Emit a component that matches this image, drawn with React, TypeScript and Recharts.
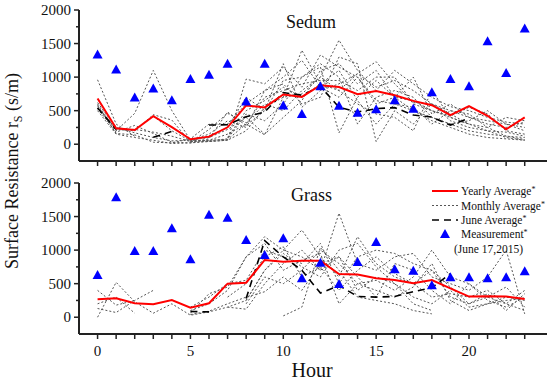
import React from 'react';
import { ComposedChart, Line, Scatter, XAxis, YAxis } from 'recharts';

const hours = [0, 1, 2, 3, 4, 5, 6, 7, 8, 9, 10, 11, 12, 13, 14, 15, 16, 17, 18, 19, 20, 21, 22, 23];
const yTicks = [0, 250, 500, 750, 1000, 1250, 1500, 1750, 2000];

// Sedum roof
const sedumYearly = [681, 237, 212, 419, 255, 74, 113, 252, 578, 548, 741, 705, 879, 853, 745, 794, 730, 646, 582, 434, 567, 424, 222, 400];
const sedumJune = [540, 220, null, 104, 190, null, 286, 290, 410, 480, 770, 730, 860, 550, 480, 530, 545, 435, 405, 285, 385, null, null, null];
const sedumMeas = [1338, 1115, 696, 830, 656, 972, 1037, 1200, 637, 1200, 578, 449, 864, 572, 468, 522, 656, 527, 775, 972, 864, 1535, 1061, 1723];
const sedumMonthly = [
  [960, 300, 120, null, null, 40, 60, 70, 300, 140, 700, 1400, 900, 800, 1050, 1230, 900, 620, 600, 450, 300, null, null, null],
  [600, 200, 460, 1100, 500, 60, 40, 60, 970, 900, 1150, 850, 1330, 1150, 1000, 650, 600, 500, 400, 300, 200, 150, 120, 100],
  [560, 220, 200, 440, 360, 30, 220, 460, 320, 600, 500, 800, 1000, 1550, 1100, 800, 1100, 900, 700, 560, 500, 400, 330, 300],
  [530, 180, 280, 160, 30, 20, 50, 80, 450, 350, 600, 1000, 1150, 170, 700, 950, 700, 650, 500, 420, 550, 450, 200, 150],
  [580, 160, 140, 30, 20, 80, 300, 300, 600, 800, 900, 600, 700, 1300, 1200, 40, 500, 300, 600, 350, 250, 200, 100, 60],
  [null, null, null, 420, 200, 50, 120, 250, 700, 500, 950, 1000, 1200, 1000, 300, 700, 800, 700, 400, 300, 350, 500, 300, 200],
  [620, 250, 170, 100, 50, 60, 100, 220, 400, 150, 400, 650, 1100, 1200, 900, 1100, 700, 1000, 450, 600, 400, 300, 250, 330],
  [540, 230, 220, 180, 120, 40, 60, 150, 300, 700, 800, 900, 950, 950, 800, 1000, 1000, 600, 500, 400, 300, 200, 180, 120],
  [null, null, null, null, null, 30, 80, 480, 280, 500, 1200, 550, 800, 900, 1050, 850, 950, 800, 600, 500, 400, 350, 300, 250],
  [500, 150, 100, 60, 10, 20, 40, 60, 200, 550, 700, 750, 1000, 800, 600, 450, 400, 200, 800, 400, 300, 250, 400, 350],
  [null, null, null, null, null, 60, 150, 350, 250, 800, 1000, 1250, 850, 700, 1000, 600, 700, 500, 350, 250, 150, 100, 80, 60],
  [null, null, null, null, null, null, null, 100, 500, 650, 850, 700, 900, 1100, 650, 300, 600, 550, 300, 500, 450, 250, 120, 70],
];

// Grass roof
const grassYearly = [268, 283, 208, 193, 257, 143, 208, 500, 515, 853, 827, 842, 842, 644, 635, 580, 555, 506, 555, 431, 307, 312, 307, 272];
const grassJune = [null, null, null, null, null, 85, 80, null, 280, 1140, 900, 700, 360, 470, 310, 300, 310, 380, 440, 650, null, null, null, null];
const grassMeas = [630, 1786, 987, 987, 1324, 863, 1527, 1482, 1150, 927, 1176, 580, 813, 496, 823, 1120, 714, 693, 476, 595, 595, 580, 595, 684];
const grassMonthly = [
  [400, 180, 250, null, null, null, null, null, null, null, 20, 150, 1040, 700, 300, 250, 200, 100, 50, null, null, null, null, null],
  [0, 520, 230, 60, 200, 30, 80, 150, 250, 700, 1000, 1300, 900, 600, 1200, 800, 600, 500, 700, 300, 200, 350, 100, 350],
  [130, 70, 250, 400, null, 60, 350, 450, 900, 1200, 1000, 900, 700, 1550, 800, 700, 900, 950, 600, 500, 400, 600, 1000, 50],
  [200, 300, 60, null, null, 150, 300, 500, 550, 1000, 900, 800, 1100, 500, 900, 1000, 950, 800, 700, 450, 200, 300, 200, 400],
  [null, null, null, null, null, 40, 90, 200, 300, 380, 600, 400, 800, 900, 400, 600, 500, 300, 200, 400, 150, 200, 300, 250],
  [null, null, null, null, null, 100, 200, 400, 900, 1100, 700, 850, 950, 200, 500, 550, 400, 600, 1000, 600, 500, 300, 450, 150],
  [null, null, null, null, null, null, null, 150, 120, 500, 800, 1000, 700, 900, 600, 300, 800, 700, 400, 200, 500, 250, 150, 300],
  [null, null, null, null, null, null, null, 300, 500, 900, 1050, 600, 750, 400, 700, 900, 650, 500, 300, 350, 300, 400, 200, 100],
  [null, null, null, null, null, null, null, null, 250, 700, 950, 750, 600, 1000, 1100, 750, 500, 200, 100, null, null, null, null, null],
  [null, null, null, null, null, null, null, null, 200, 600, 500, 700, 1000, 800, 500, 400, 300, 450, 800, 250, 100, 200, 250, 280],
];

const legendItems = ['Yearly Average', 'Monthly Average', 'June Average', 'Measurement'];

const FONT = '"Liberation Serif", "Times New Roman", serif';
const AXIS = '#222';

function buildRows(yearly: any[], june: any[], meas: any[], monthly: any[][]) {
  return hours.map((h, i) => {
    const row: any = { hour: h, yearly: yearly[i], june: june[i], meas: meas[i] };
    monthly.forEach((m, k) => {
      row['m' + k] = m[i];
    });
    return row;
  });
}

const sedumRows = buildRows(sedumYearly, sedumJune, sedumMeas, sedumMonthly);
const grassRows = buildRows(grassYearly, grassJune, grassMeas, grassMonthly);

function Triangle(props: any) {
  const { cx, cy } = props;
  if (cx == null || cy == null) return null;
  return <polygon points={`${cx},${cy - 5} ${cx - 5},${cy + 4} ${cx + 5},${cy + 4}`} fill="#0000ff" />;
}

function YTick(props: any) {
  const { x, y, payload } = props;
  const major = payload.value % 500 === 0;
  return (
    <g>
      <line x1={x} x2={x - (major ? 5 : 3)} y1={y} y2={y} stroke={AXIS} strokeWidth={1.5} />
      {major && (
        <text x={x - 8} y={y} dy="0.35em" textAnchor="end" fontSize={15} fontFamily={FONT} fill="#111">
          {payload.value}
        </text>
      )}
    </g>
  );
}

function makeXTick(showLabels: boolean) {
  return (props: any) => {
    const { x, y, payload } = props;
    if (!showLabels || payload.value % 5 !== 0) return <g />;
    return (
      <text x={x} y={y} dy="0.71em" textAnchor="middle" fontSize={15} fontFamily={FONT} fill="#111">
        {payload.value}
      </text>
    );
  };
}

function Panel({ rows, monthlyCount, height, margin, xHeight, showLabels }: any) {
  return (
    <ComposedChart width={550} height={height} data={rows} margin={margin}>
      <XAxis
        dataKey="hour"
        type="number"
        domain={[-1, 24.2]}
        ticks={hours}
        interval={0}
        allowDataOverflow
        height={xHeight}
        tickSize={5}
        tickMargin={6}
        tickLine={{ stroke: AXIS, strokeWidth: 1.5 }}
        axisLine={{ stroke: AXIS, strokeWidth: 2 }}
        tick={makeXTick(showLabels)}
      />
      <XAxis
        xAxisId="top"
        orientation="top"
        dataKey="hour"
        type="number"
        domain={[-1, 24.2]}
        height={0}
        tick={false}
        tickLine={false}
        axisLine={{ stroke: AXIS, strokeWidth: 2 }}
      />
      <YAxis
        type="number"
        domain={[-250, 2000]}
        ticks={yTicks}
        interval={0}
        allowDataOverflow
        width={40}
        tickSize={0}
        tickMargin={0}
        tickLine={false}
        tick={<YTick />}
        axisLine={{ stroke: AXIS, strokeWidth: 2 }}
      />
      <YAxis
        yAxisId="right"
        orientation="right"
        type="number"
        domain={[-250, 2000]}
        width={0}
        tick={false}
        tickLine={false}
        axisLine={{ stroke: AXIS, strokeWidth: 2 }}
      />
      {Array.from({ length: monthlyCount }).map((_, k) => (
        <Line
          key={k}
          dataKey={'m' + k}
          stroke="#555"
          strokeWidth={1}
          strokeDasharray="2 2"
          dot={false}
          connectNulls={false}
          isAnimationActive={false}
        />
      ))}
      <Line dataKey="june" stroke="#000" strokeWidth={1.6} strokeDasharray="7 5" dot={false} isAnimationActive={false} />
      <Line dataKey="yearly" stroke="#ff0000" strokeWidth={2} dot={false} isAnimationActive={false} />
      <Scatter dataKey="meas" shape={<Triangle />} isAnimationActive={false} />
    </ComposedChart>
  );
}

export default function App() {
  const rowY = [191, 205.5, 220, 234];
  return (
    <div style={{ position: 'absolute', left: 0, top: 0, width: 550, height: 381, background: '#fff' }}>
      <div style={{ position: 'absolute', left: 0, top: 0 }}>
        <Panel
          rows={sedumRows}
          monthlyCount={sedumMonthly.length}
          height={170}
          margin={{ top: 10, right: 3, bottom: 0, left: 39 }}
          xHeight={9}
          showLabels={false}
        />
      </div>
      <div style={{ position: 'absolute', left: 0, top: 170 }}>
        <Panel
          rows={grassRows}
          monthlyCount={grassMonthly.length}
          height={211}
          margin={{ top: 13, right: 3, bottom: 17, left: 39 }}
          xHeight={30}
          showLabels={true}
        />
      </div>
      <svg
        width={550}
        height={381}
        style={{ position: 'absolute', left: 0, top: 0, pointerEvents: 'none' }}
        fontFamily={FONT}
      >
        <text x={286} y={28} fontSize={18} fill="#111">Sedum</text>
        <text x={291} y={201} fontSize={18} fill="#111">Grass</text>
        <text x={312} y={377} fontSize={20} textAnchor="middle" fill="#111">Hour</text>
        <text transform="translate(18,171) rotate(-90)" fontSize={18} textAnchor="middle" fill="#111">
          Surface Resistance r<tspan fontSize={12} dy={4}>S</tspan>
          <tspan dy={-4}> (s/m)</tspan>
        </text>
        <g fontSize={11.5} fill="#111">
          <line x1={432} x2={458} y1={rowY[0]} y2={rowY[0]} stroke="#ff0000" strokeWidth={2} />
          <line x1={432} x2={458} y1={rowY[1]} y2={rowY[1]} stroke="#555" strokeWidth={1} strokeDasharray="2 2" />
          <line x1={432} x2={458} y1={rowY[2]} y2={rowY[2]} stroke="#000" strokeWidth={1.6} strokeDasharray="7 5" />
          <polygon points={`445,${rowY[3] - 5} 440,${rowY[3] + 4} 450,${rowY[3] + 4}`} fill="#0000ff" />
          {legendItems.map((t, i) => (
            <text key={t} x={461} y={rowY[i]} dy="0.35em">
              {t}
              <tspan fontSize={8} dy={-3}>*</tspan>
            </text>
          ))}
          <text x={454} y={249} dy="0.35em">(June 17,2015)</text>
        </g>
      </svg>
    </div>
  );
}
